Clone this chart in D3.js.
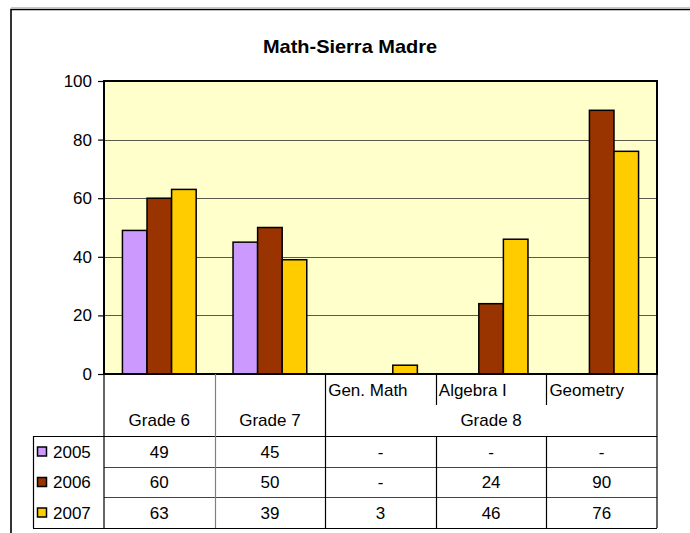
<!DOCTYPE html>
<html>
<head>
<meta charset="utf-8">
<script src="https://cdn.jsdelivr.net/npm/d3@7"></script>
<style>
  html, body { margin: 0; padding: 0; background: #fff; }
  svg { display: block; font-family: "Liberation Sans", Arial, sans-serif; }
</style>
</head>
<body>
<svg id="chart" width="690" height="533"></svg>
<script>
// Subjects along the x axis, and the grade group each belongs to
const categories = ["Grade 6", "Grade 7", "Gen. Math", "Algebra I", "Geometry"];
const groupLabels = ["Grade 6", "Grade 7", "Grade 8"];
const years = ["2005", "2006", "2007"];

// Scores per year (null = no data, shown as "-")
const values2005 = [49, 45, null, null, null];
const values2006 = [60, 50, null, 24, 90];
const values2007 = [63, 39, 3, 46, 76];

const yTicks = [0, 20, 40, 60, 80, 100];
const colors = ["#CC99FF", "#993300", "#FFCC00"];

const seriesValues = [values2005, values2006, values2007];

const svg = d3.select("#chart");
const plot = { left: 104, right: 657, top: 81, bottom: 374 };
const rows = [436, 467, 497, 528];
const tableLeft = 33;

const x = d3.scaleBand().domain(categories).range([plot.left, plot.right]).padding(0);
const bw = x.bandwidth();
const x1 = d3.scaleBand().domain(years).range([bw * 0.75 / 4.5, bw - bw * 0.75 / 4.5]).padding(0);
const y = d3.scaleLinear().domain([0, 100]).range([plot.bottom, plot.top]);

// Chart frame
svg.append("path")
  .attr("d", "M11,533 V9.5 H690")
  .attr("fill", "none").attr("stroke", "#000").attr("stroke-width", 1.6);
svg.append("line").attr("x1", 11).attr("x2", 690).attr("y1", 7.5).attr("y2", 7.5)
  .attr("stroke", "#c8c8c8").attr("stroke-width", 1);

// Title (slightly widened face)
svg.append("text")
  .attr("transform", "translate(350,53) scale(1.11,1)")
  .attr("text-anchor", "middle")
  .attr("font-weight", "bold").attr("font-size", 18)
  .text("Math-Sierra Madre");

// Plot area
svg.append("rect")
  .attr("x", plot.left).attr("y", plot.top)
  .attr("width", plot.right - plot.left).attr("height", plot.bottom - plot.top)
  .attr("fill", "#FFFFCC");

// Gridlines
svg.append("g").selectAll("line")
  .data(yTicks.filter(d => d > 0 && d < 100))
  .join("line")
  .attr("x1", plot.left).attr("x2", plot.right)
  .attr("y1", d => Math.round(y(d)) + 0.5).attr("y2", d => Math.round(y(d)) + 0.5)
  .attr("stroke", "#5a5a4a").attr("stroke-width", 1.2);

// Bars
const barData = [];
seriesValues.forEach((vals, si) => {
  vals.forEach((v, ci) => {
    if (v !== null) barData.push({ cat: categories[ci], year: years[si], value: v, color: colors[si] });
  });
});
svg.append("g").selectAll("rect")
  .data(barData)
  .join("rect")
  .attr("x", d => x(d.cat) + x1(d.year))
  .attr("y", d => y(d.value))
  .attr("width", x1.bandwidth())
  .attr("height", d => y(0) - y(d.value))
  .attr("fill", d => d.color)
  .attr("stroke", "#000").attr("stroke-width", 1.5);

// Plot border
svg.append("rect")
  .attr("x", plot.left).attr("y", plot.top)
  .attr("width", plot.right - plot.left).attr("height", plot.bottom - plot.top)
  .attr("fill", "none").attr("stroke", "#000").attr("stroke-width", 2);

// Y axis
const yAxis = d3.axisLeft(y).tickValues(yTicks).tickSize(6).tickPadding(6);
const ga = svg.append("g").attr("transform", `translate(${plot.left},0)`).call(yAxis);
ga.select(".domain").remove();
ga.selectAll(".tick line").attr("stroke", "#000").attr("stroke-width", 1.2);
ga.selectAll(".tick text")
  .attr("font-size", 17).attr("font-family", "'Liberation Sans', Arial, sans-serif")
  .attr("fill", "#000");

// Data table
const tbl = svg.append("g").attr("stroke-width", 1.2);
const hline = (x1p, x2p, yp, c) => tbl.append("line")
  .attr("x1", x1p).attr("x2", x2p).attr("y1", yp).attr("y2", yp).attr("stroke", c || "#000");
const vline = (xp, y1p, y2p, c) => tbl.append("line")
  .attr("x1", xp).attr("x2", xp).attr("y1", y1p).attr("y2", y2p).attr("stroke", c || "#000");

rows.forEach((r, i) => hline(i === 0 ? tableLeft : plot.left, plot.right, r + 0.5, i === 0 || i === 3 ? "#000" : "#444"));
hline(tableLeft, plot.left, rows[0] + 0.5);
hline(tableLeft, plot.left, rows[3] + 0.5);
vline(tableLeft + 0.5, rows[0], rows[3]);
vline(plot.left, plot.bottom, rows[3]);
vline(plot.right, plot.bottom, rows[3]);
// Boundaries between categories
categories.slice(1).forEach((c, i) => {
  const xp = Math.round(x(c)) + 0.5;
  if (i === 0) vline(xp, plot.bottom, rows[3], "#808080");
  else if (i === 1) vline(xp, plot.bottom, rows[3]);
  else { vline(xp, plot.bottom, 405); vline(xp, rows[0], rows[3]); }
});

const font = 17;
const txt = (xp, yp, s, anchor) => svg.append("text")
  .attr("x", xp).attr("y", yp).attr("text-anchor", anchor || "middle")
  .attr("font-size", font).attr("fill", "#000").text(s);

// Category headers
txt(x("Grade 6") + bw / 2, 426, groupLabels[0]);
txt(x("Grade 7") + bw / 2, 426, groupLabels[1]);
["Gen. Math", "Algebra I", "Geometry"].forEach(c => txt(x(c) + 3, 396, c, "start"));
txt((x("Gen. Math") + plot.right) / 2, 426, groupLabels[2]);

// Value rows with legend keys
const baselines = [458, 488, 519];
years.forEach((yr, si) => {
  const mid = (rows[si] + rows[si + 1]) / 2;
  svg.append("rect")
    .attr("x", 37.5).attr("y", mid - 4.5)
    .attr("width", 9).attr("height", 9)
    .attr("fill", colors[si]).attr("stroke", "#000").attr("stroke-width", 1.5);
  txt(53, baselines[si], yr, "start");
  seriesValues[si].forEach((v, ci) => {
    txt(x(categories[ci]) + bw / 2, baselines[si], v === null ? "-" : String(v));
  });
});
</script>
</body>
</html>
